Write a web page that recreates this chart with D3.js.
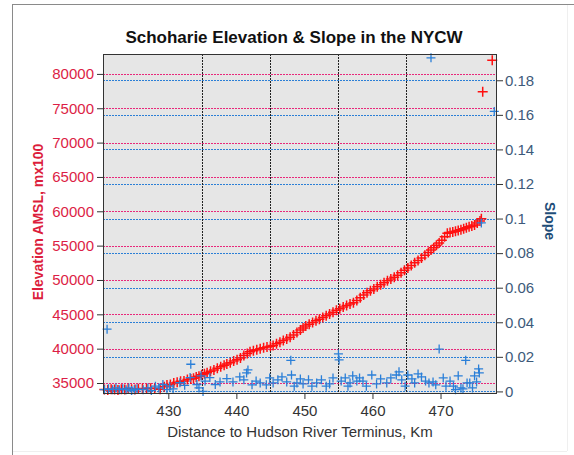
<!DOCTYPE html>
<html>
<head>
<meta charset="utf-8">
<script src="https://cdn.jsdelivr.net/npm/d3@7"></script>
<style>
  body { margin: 0; background: #fff; }
  svg { display: block; font-family: "Liberation Sans", Arial, sans-serif; }
</style>
</head>
<body>
<svg id="chart" width="574" height="455"></svg>
<script>
// elevation (red +), metres AMSL x100
var elevKm = [420.6, 421.1, 421.6, 422.1, 422.6, 423.1, 423.6, 424.1, 424.6, 425.1, 425.6, 426.2, 426.8, 427.4, 428.0, 428.8, 429.4, 429.8,
  430.3, 430.8, 431.3, 431.8, 432.3, 432.8, 433.3, 433.7, 434.1, 434.5, 434.9, 435.3, 435.7, 436.2, 436.7, 437.2, 437.7, 438.2, 438.6, 439.1, 439.6,
  440.1, 440.6, 441.1, 441.6, 442.0, 442.5, 443.0, 443.5, 444.0, 444.5, 445.0, 445.4, 445.9, 446.4, 446.9, 447.4, 447.9, 448.4, 448.9, 449.4, 449.8,
  450.2, 450.7, 451.2, 451.7, 452.2, 452.7, 453.2, 453.7, 454.2, 454.7, 455.2, 455.7, 456.2, 456.7, 457.2, 457.7, 458.2, 458.7, 459.2, 459.7,
  460.2, 460.7, 461.2, 461.7, 462.2, 462.7, 463.2, 463.7, 464.2, 464.7, 465.2, 465.7, 466.2, 466.7, 467.2, 467.7, 468.2, 468.6, 469.0, 469.4, 469.8,
  470.2, 470.6, 471.0, 471.4, 471.8, 472.2, 472.6, 473.0, 473.4, 473.8, 474.2, 474.6, 475.0, 475.4, 475.8, 476.0, 476.2, 477.6];
var elevVal = [34050, 34000, 34100, 34050, 34000, 34100, 34050, 34150, 34100, 34050, 34150, 34200, 34150, 34250, 34200, 34100, 34450, 34700,
  34800, 35000, 35100, 35250, 35300, 35500, 35600, 35700, 35870, 36000, 36200, 36350, 36500, 36700, 36900, 37150, 37350, 37600, 37760, 37950, 38200,
  38400, 38650, 39000, 39300, 39540, 39700, 39850, 40000, 40150, 40250, 40350, 40450, 40700, 40950, 41200, 41400, 41650, 42000, 42350, 42700, 43000,
  43300, 43550, 43800, 44050, 44300, 44550, 44800, 45050, 45300, 45600, 45800, 46050, 46300, 46500, 46700, 47000, 47400, 47800, 48150, 48450,
  48700, 49000, 49300, 49600, 49900, 50150, 50400, 50700, 51050, 51400, 51750, 52100, 52500, 52850, 53200, 53600, 54000, 54350, 54700, 55050, 55400,
  55800, 56300, 56800, 56900, 57000, 57100, 57200, 57300, 57450, 57600, 57750, 57850, 58000, 58300, 58600, 58900, 77400, 82000];

// slope (blue +)
var slopeKm = [420.6, 421.0, 421.2, 421.8, 422.3, 422.8, 423.3, 423.8, 424.2, 424.6, 425.0, 425.4, 426.3, 427.0, 427.5, 428.1, 428.6, 429.2, 429.8,
  430.2, 430.7, 431.7, 432.4, 433.2, 433.3, 434.2, 434.5, 434.8, 435.1, 435.4, 436.1, 436.9, 437.6, 438.6, 439.5, 440.5, 441.1, 441.5, 441.7,
  442.3, 442.9, 443.5, 444.4, 444.9, 445.4, 446.1, 446.7, 447.4, 448.0, 448.1, 448.5, 448.9, 449.4, 449.8, 450.6, 451.1, 451.8, 452.5, 453.2,
  453.7, 454.2, 455.0, 455.1, 455.4, 456.0, 456.4, 456.7, 457.1, 457.7, 458.1, 458.6, 459.1, 459.9, 460.6, 461.2, 462.1, 462.7, 463.5, 463.9,
  464.3, 464.8, 465.2, 465.8, 466.2, 466.7, 467.2, 467.8, 468.3, 468.6, 468.9, 469.3, 469.8, 470.4, 470.8, 471.4, 471.9, 472.2, 472.6, 473.0,
  473.3, 473.7, 473.9, 474.3, 474.7, 475.0, 475.3, 475.6, 475.7, 476.0, 477.9];
var slopeVal = [0.001, 0.036, 0.0015, 0.001, 0.002, 0.001, 0.0015, 0.001, 0.002, 0.0005, 0.001, 0.0015, 0.001, 0.002, 0.0005, 0.003, 0.002, 0.004, 0.001,
  0.003, 0.0015, 0.005, 0.0035, 0.008, 0.0157, 0.004, 0.002, 0.009, 0.0, 0.006, 0.008, 0.004, 0.0055, 0.0074, 0.0055, 0.0084, 0.0067, 0.0107, 0.0124,
  0.0038, 0.006, 0.0049, 0.0038, 0.0078, 0.0049, 0.0067, 0.0084, 0.0055, 0.018, 0.0095, 0.003, 0.0049, 0.0072, 0.0043, 0.0067, 0.003, 0.0049, 0.0067, 0.003,
  0.0043, 0.0078, 0.0217, 0.0182, 0.006, 0.0078, 0.003, 0.0049, 0.009, 0.006, 0.0078, 0.006, 0.003, 0.0095, 0.0043, 0.0072, 0.0049, 0.0078, 0.0095, 0.0113,
  0.0067, 0.003, 0.0095, 0.0072, 0.0049, 0.0101, 0.0084, 0.006, 0.0049, 0.193, 0.0055, 0.0038, 0.0245, 0.0078, 0.003, 0.006, 0.003, 0.001, 0.009, 0.002,
  0.0015, 0.018, 0.0049, 0.0049, 0.002, 0.009, 0.0055, 0.013, 0.0107, 0.0975, 0.162];

var kmTicks = [430, 440, 450, 460, 470];
var kmGrid = [435, 445, 455, 465];
var elevTicks = [35000, 40000, 45000, 50000, 55000, 60000, 65000, 70000, 75000, 80000];
var slopeTicks = [0, 0.02, 0.04, 0.06, 0.08, 0.1, 0.12, 0.14, 0.16, 0.18];

var svg = d3.select("#chart");
var plotL = 103, plotR = 497, plotT = 54, plotB = 394;

var x = d3.scaleLinear().domain([420.4, 478.3]).range([plotL, plotR]);
var yL = d3.scaleLinear().domain([33400, 82900]).range([plotB, plotT]);
var yR = d3.scaleLinear().domain([-0.0015, 0.1952]).range([plotB, plotT]);

// outer frame (screenshot edge)
svg.append("line").attr("x1", 12.5).attr("x2", 12.5).attr("y1", 4).attr("y2", 455).attr("stroke", "#8a8a8a");
svg.append("line").attr("x1", 12).attr("x2", 574).attr("y1", 4.5).attr("y2", 4.5).attr("stroke", "#8a8a8a");
svg.append("line").attr("x1", 13).attr("x2", 567).attr("y1", 451.5).attr("y2", 451.5).attr("stroke", "#efefef");
svg.append("line").attr("x1", 567.5).attr("x2", 567.5).attr("y1", 5).attr("y2", 451).attr("stroke", "#efefef");

// title
svg.append("text").attr("x", 294).attr("y", 43).attr("text-anchor", "middle")
  .attr("font-size", 17).attr("font-weight", "bold").attr("fill", "#111")
  .text("Schoharie Elevation & Slope in the NYCW");

// plot background
svg.append("rect").attr("x", plotL).attr("y", plotT).attr("width", plotR - plotL).attr("height", plotB - plotT)
  .attr("fill", "#e6e6e6");

// gridlines
var grid = svg.append("g").attr("class", "grid");
grid.selectAll(".gl").data(elevTicks).enter().append("line")
  .attr("x1", plotL).attr("x2", plotR)
  .attr("y1", function (d) { return Math.round(yL(d)) + 0.5; })
  .attr("y2", function (d) { return Math.round(yL(d)) + 0.5; })
  .attr("stroke", "#e8287a").attr("stroke-dasharray", "2,1");
grid.selectAll(".gr").data(slopeTicks).enter().append("line")
  .attr("x1", plotL).attr("x2", plotR)
  .attr("y1", function (d) { return Math.round(yR(d)) + 0.5; })
  .attr("y2", function (d) { return Math.round(yR(d)) + 0.5; })
  .attr("stroke", "#2b7fd6").attr("stroke-dasharray", "2,1");
grid.selectAll(".gv").data(kmGrid).enter().append("line")
  .attr("y1", plotT).attr("y2", plotB)
  .attr("x1", function (d) { return Math.round(x(d)) + 0.5; })
  .attr("x2", function (d) { return Math.round(x(d)) + 0.5; })
  .attr("stroke", "#222").attr("stroke-dasharray", "2,1");

// marks
svg.append("g").selectAll("path").data(elevKm).enter().append("path")
  .attr("d", "M-5,0H5M0,-5V5")
  .attr("transform", function (d, i) { return "translate(" + x(d) + "," + yL(elevVal[i]) + ")"; })
  .attr("stroke", "#ff1010").attr("stroke-width", 1.5).attr("fill", "none");
svg.append("g").selectAll("path").data(slopeKm).enter().append("path")
  .attr("d", "M-4.5,0H4.5M0,-4.5V4.5")
  .attr("transform", function (d, i) { return "translate(" + x(d) + "," + yR(slopeVal[i]) + ")"; })
  .attr("stroke", "#2a7fd8").attr("stroke-width", 1.3).attr("fill", "none");

// plot border
svg.append("rect").attr("x", plotL + 0.5).attr("y", plotT + 0.5).attr("width", plotR - plotL - 1).attr("height", plotB - plotT - 1)
  .attr("fill", "none").attr("stroke", "#333");

// axes
var gx = svg.append("g").attr("transform", "translate(0," + plotB + ")")
  .call(d3.axisBottom(x).tickValues(kmTicks).tickSize(5).tickPadding(6));
var gl = svg.append("g").attr("transform", "translate(" + plotL + ",0)")
  .call(d3.axisLeft(yL).tickValues(elevTicks).tickSize(6).tickPadding(3).tickFormat(d3.format("d")));
var gr = svg.append("g").attr("transform", "translate(" + plotR + ",0)")
  .call(d3.axisRight(yR).tickValues(slopeTicks).tickSize(6).tickPadding(2)
    .tickFormat(function (d) { return String(+d.toFixed(2)); }));

[gx, gl, gr].forEach(function (g) {
  g.select(".domain").remove();
  g.selectAll("line").attr("stroke", "#333");
  g.selectAll("text").attr("font-size", 15).attr("font-family", "Liberation Sans, Arial, sans-serif");
});
gx.selectAll("text").attr("fill", "#333");
gl.selectAll("text").attr("fill", "#dc1e46");
gr.selectAll("text").attr("fill", "#3d5a7a");

// axis titles
svg.append("text").attr("x", 300).attr("y", 437).attr("text-anchor", "middle")
  .attr("font-size", 15).attr("fill", "#333")
  .text("Distance to Hudson River Terminus, Km");
svg.append("text").attr("transform", "translate(43,222) rotate(-90)").attr("text-anchor", "middle")
  .attr("font-size", 14).attr("font-weight", "bold").attr("fill", "#dc1e3c")
  .text("Elevation AMSL, mx100");
svg.append("text").attr("transform", "translate(545,221) rotate(90)").attr("text-anchor", "middle")
  .attr("font-size", 14).attr("font-weight", "bold").attr("fill", "#1f4e79")
  .text("Slope");
</script>
</body>
</html>
